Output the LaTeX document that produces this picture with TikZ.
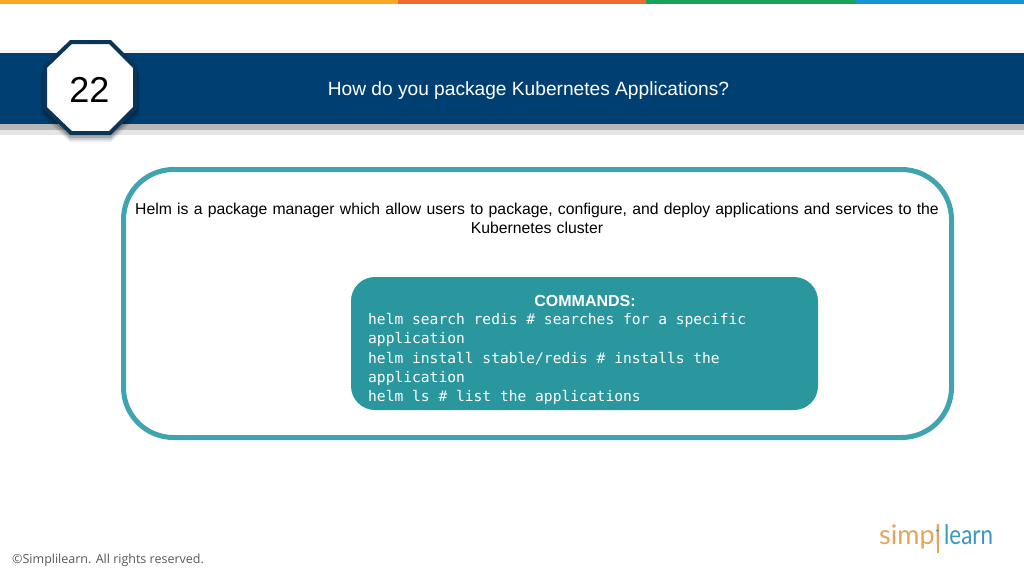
\documentclass[tikz,border=0pt]{standalone}
\usepackage{xcolor}
\usepackage{fontspec}
\setmainfont{Liberation Sans}
\setmonofont{DejaVu Sans Mono}
\newfontfamily\footfont{Open Sans}
\newfontfamily\logofont{Lato}
\definecolor{bannerblue}{HTML}{003F72}
\definecolor{octborder}{HTML}{0B3558}
\definecolor{ringteal}{HTML}{3FA3B0}
\definecolor{cmdteal}{HTML}{2A969E}
\definecolor{logoorange}{HTML}{E3A45C}
\definecolor{logoblue}{HTML}{3A97C4}
\definecolor{stripea}{HTML}{F9A825}
\definecolor{stripeb}{HTML}{EF6C30}
\definecolor{stripec}{HTML}{17A45A}
\definecolor{striped}{HTML}{1594D6}
\tikzset{
    stripe/.style={fill=#1, draw=none},
    cmdline/.style={anchor=west, text=white, inner sep=0pt, font=\ttfamily\fontsize{14.6}{17}\selectfont},
    logotext/.style={anchor=base west, inner sep=0pt, font=\logofont\fontsize{27}{30}\selectfont},
}

\begin{document}
\begin{tikzpicture}[x=1pt, y=-1pt]
    \useasboundingbox (0,0) rectangle (1024,576);
    \fill[white] (0,0) rectangle (1024,576);

    % Top stripes
    \fill[stripe=stripea] (0,0) rectangle (398,4);
    \fill[stripe=stripeb] (398,0) rectangle (646,4);
    \fill[stripe=stripec] (646,0) rectangle (856,4);
    \fill[stripe=striped] (856,0) rectangle (1024,4);

    % Banner
    \fill[black!4] (0,50) rectangle (1024,53);
    \fill[black!10] (0,130) rectangle (1024,135);
    \fill[black!28] (0,124) rectangle (1024,130);
    \fill[bannerblue] (0,53) rectangle (1024,124);
    \node[text=white, font=\fontsize{19.15}{23}\selectfont] (title) at (528.5,91) {How do you package Kubernetes Applications?};

    % Octagon with number
    \foreach \s/\o in {7/0.08, 5/0.12, 3/0.18}
        \fill[black, opacity=\o] (70,41+\s) -- (111,41+\s) -- (136+\s/2,68+\s) -- (136+\s/2,108+\s) -- (111,135+\s) -- (70,135+\s) -- (44-\s/2,108+\s) -- (44-\s/2,68+\s) -- cycle;
    \draw[octborder, line width=4pt, fill=white, line join=miter] (71,42) -- (110,42) -- (135,67) -- (135,108) -- (110,133) -- (71,133) -- (45,108) -- (45,67) -- cycle;
    \node[font=\fontsize{36}{40}\selectfont] (number) at (89.5,90) {22};

    % Outer box
    \draw[ringteal, line width=5pt, rounded corners=50pt] (123.5,169.5) rectangle (951.5,437.5);
    \node[align=center, font=\fontsize{15.75}{19.3}\selectfont, text width=840pt] (helmtext) at (537,218.5) {Helm is a package manager which allow users to package, configure, and deploy applications and services to the\\Kubernetes cluster};

    % Commands box
    \fill[cmdteal, rounded corners=24pt] (351,277) rectangle (818,410);
    \node[text=white, font=\bfseries\fontsize{16}{19}\selectfont] (commands) at (585,300.5) {COMMANDS:};
    \node[cmdline] (cmda) at (368,320) {helm search redis \# searches for a specific};
    \node[cmdline] (cmdb) at (368,339) {application};
    \node[cmdline] (cmdc) at (368,359) {helm install stable/redis \# installs the};
    \node[cmdline] (cmdd) at (368,378) {application};
    \node[cmdline] (cmde) at (368,397) {helm ls \# list the applications};

    % Footer
    \node[anchor=west, inner sep=0pt, text=black!65, font=\footfont\fontsize{12.5}{15}\selectfont] (rights) at (12,560) {©Simplilearn. All rights reserved.};

    % Logo
    \node[logotext, text=logoorange] (simpl) at (879,544.5) {simpl};
    \node[logotext, text=logoblue, xscale=0.83] (learn) at (944,544.5) {learn};
    \draw[logoorange, line width=2pt] (937.5,535) -- (937.5,553);
    \fill[logoblue] (937.5,530.5) circle (1.3pt);
\end{tikzpicture}
\end{document}
